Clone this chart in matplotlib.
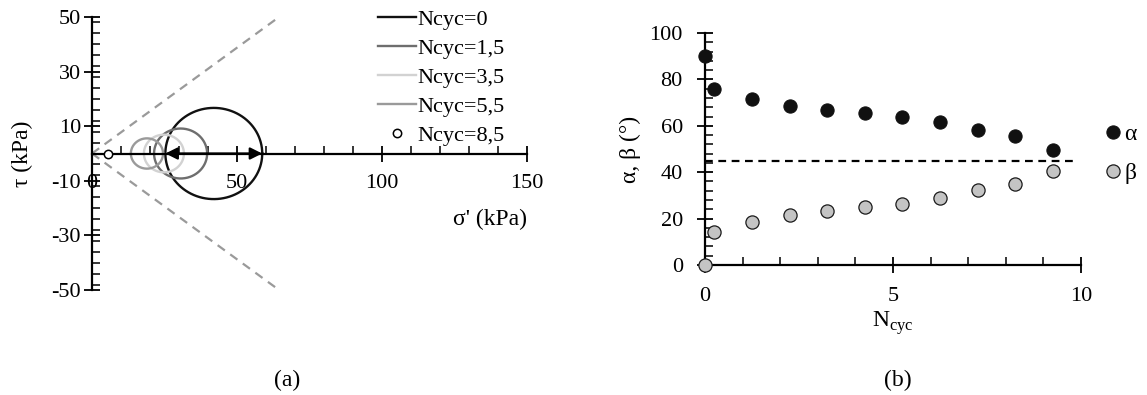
import numpy as np
import matplotlib
matplotlib.use('Agg')
import matplotlib.pyplot as plt
from matplotlib.ticker import MultipleLocator, FixedLocator

plt.rcParams['font.family'] = ['Liberation Serif', 'DejaVu Serif']
plt.rcParams['font.size'] = 16
plt.rcParams['axes.unicode_minus'] = False
plt.rcParams['mathtext.fontset'] = 'custom'
plt.rcParams['mathtext.rm'] = 'Liberation Serif'

# (a) Mohr circles: minor and major principal stresses (kPa) per cycle count
ncyc_labels = ['Ncyc=0', 'Ncyc=1,5', 'Ncyc=3,5', 'Ncyc=5,5']
sig3 = [25.3, 21.4, 17.9, 13.4]
sig1 = [58.7, 39.7, 31.7, 24.5]
circle_colors = ['#111111', '#6e6e6e', '#d2d2d2', '#9a9a9a']
sig_last = 5.6          # Ncyc=8,5 collapses to a point
env_sig = [0, 64.5]     # failure envelope end points
env_tau = [0, 50]

# (b) alpha and beta angles against number of cycles
ncyc = [0, 0.25, 1.25, 2.25, 3.25, 4.25, 5.25, 6.25, 7.25, 8.25, 9.25]
alpha = [90, 75.8, 71.5, 68.6, 66.7, 65.5, 64.0, 61.6, 58.1, 55.5, 49.6]
beta = [0, 14.4, 18.7, 21.6, 23.4, 24.9, 26.3, 28.8, 32.4, 34.8, 40.7]

W, H = 1147, 395
fig = plt.figure(figsize=(W/100, H/100), dpi=100)

# ---------- panel (a) ----------
ax1 = fig.add_axes([92/W, 1 - 290/H, 435/W, 273/H])
ax1.set_xlim(0, 150)
ax1.set_ylim(-50, 50)
for s in ['top', 'right']:
    ax1.spines[s].set_visible(False)
ax1.spines['bottom'].set_position(('data', 0))
ax1.spines['left'].set_linewidth(1.6)
ax1.spines['bottom'].set_linewidth(1.6)

ax1.plot(env_sig, env_tau, color='#9a9a9a', lw=1.6, ls=(0, (4, 3)), clip_on=False)
ax1.plot(env_sig, [-t for t in env_tau], color='#9a9a9a', lw=1.6, ls=(0, (4, 3)), clip_on=False)

t = np.linspace(0, 2*np.pi, 300)
for lo, hi, c, lab in zip(sig3, sig1, circle_colors, ncyc_labels):
    cen = (lo + hi)/2
    r = (hi - lo)/2
    ax1.plot(cen + r*np.cos(t), r*np.sin(t), color=c, lw=1.7, label=lab)
ax1.plot([sig_last], [0], 'o', ms=6, mfc='white', mec='black', mew=1.1,
         label='Ncyc=8,5', zorder=5)

# stress path arrow across the first circle
ax1.annotate('', xy=(sig3[0], 0), xytext=(sig1[0], 0),
             arrowprops=dict(arrowstyle='<|-|>', color='black', lw=1.6,
                             mutation_scale=18, shrinkA=0, shrinkB=0))

ax1.xaxis.set_major_locator(MultipleLocator(50))
ax1.xaxis.set_minor_locator(MultipleLocator(10))
ax1.yaxis.set_major_locator(FixedLocator([-50, -30, -10, 10, 30, 50]))
ax1.yaxis.set_minor_locator(MultipleLocator(4))
ax1.tick_params(axis='x', which='major', direction='inout', length=12, width=1.3, pad=9)
ax1.tick_params(axis='x', which='minor', direction='in', length=6, width=1.1)
ax1.tick_params(axis='y', which='major', direction='inout', length=12, width=1.3, pad=2)
ax1.tick_params(axis='y', which='minor', direction='in', length=6, width=1.1)

ax1.set_ylabel('τ (kPa)', fontsize=17, labelpad=13)
ax1.text(1.0, 0.26, "σ' (kPa)", transform=ax1.transAxes, ha='right', va='center',
         fontsize=17)
ax1.legend(loc='upper right', bbox_to_anchor=(0.97, 1.06), frameon=False,
           handlelength=1.7, handletextpad=0.1, labelspacing=0.38,
           borderaxespad=0, fontsize=16)

fig.text(287/W, 1 - 380/H, '(a)', ha='center', va='center', fontsize=17)

# ---------- panel (b) ----------
ax2 = fig.add_axes([705/W, 1 - 265/H, 376/W, 232/H])
ax2.set_xlim(0, 10)
ax2.set_ylim(0, 100)
for s in ['top', 'right']:
    ax2.spines[s].set_visible(False)
ax2.spines['left'].set_linewidth(1.6)
ax2.spines['bottom'].set_linewidth(1.6)

ax2.plot([0, 9.8], [45, 45], color='black', lw=1.6, ls=(0, (3.5, 2.5)))
ax2.plot(ncyc, alpha, 'o', ms=9.5, mfc='#111111', mec='#111111', mew=0.8,
         clip_on=False, zorder=4, label='α')
ax2.plot(ncyc, beta, 'o', ms=9.5, mfc='#c4c4c4', mec='#1a1a1a', mew=0.9,
         clip_on=False, zorder=4, label='β')

ax2.xaxis.set_major_locator(MultipleLocator(5))
ax2.xaxis.set_minor_locator(MultipleLocator(1))
ax2.yaxis.set_major_locator(MultipleLocator(20))
ax2.yaxis.set_minor_locator(MultipleLocator(4))
ax2.tick_params(axis='x', which='major', direction='inout', length=12, width=1.3, pad=10)
ax2.tick_params(axis='x', which='minor', direction='in', length=6, width=1.1)
ax2.tick_params(axis='y', which='major', direction='inout', length=12, width=1.3, pad=10)
ax2.tick_params(axis='y', which='minor', direction='in', length=6, width=1.1)

ax2.set_ylabel('α, β (°)', fontsize=17, labelpad=6)
ax2.set_xlabel(r'N$_\mathregular{cyc}$', fontsize=17, labelpad=2)
ax2.legend(loc='center left', bbox_to_anchor=(1.065, 0.48), frameon=False,
           handlelength=0.6, handletextpad=0.2, labelspacing=0.75,
           borderaxespad=0, borderpad=0, fontsize=17)

fig.text(898/W, 1 - 380/H, '(b)', ha='center', va='center', fontsize=17)

fig.savefig('out.png', dpi=100)
